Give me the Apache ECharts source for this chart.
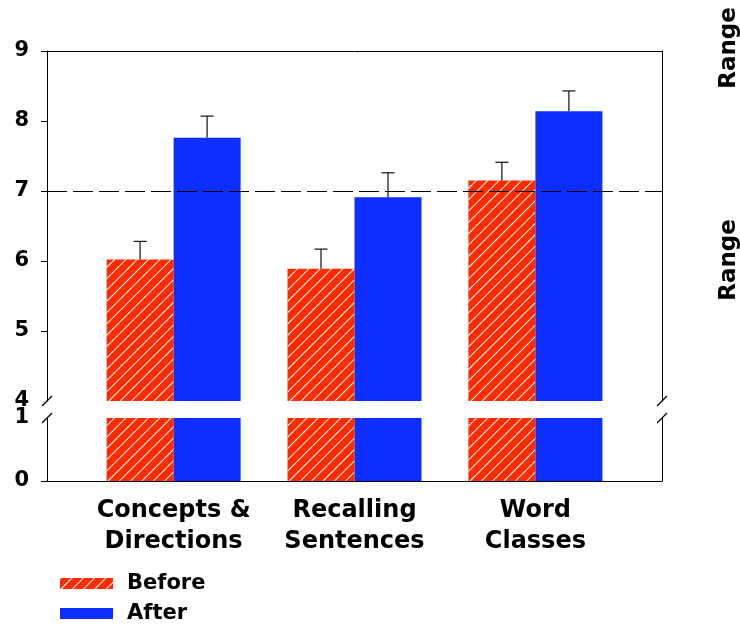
<!DOCTYPE html>
<html>
<head>
<meta charset="utf-8">
<script src="https://cdn.jsdelivr.net/npm/echarts@6/dist/echarts.min.js"></script>
<style>
  html, body { margin: 0; padding: 0; background: #fff; }
  #chart { width: 740px; height: 625px; }
</style>
</head>
<body>
<div id="chart"></div>
<script>
// Subtest scores before and after, on a broken y-axis (0–1 and 4–9)
const categories = ['Concepts &\nDirections', 'Recalling\nSentences', 'Word\nClasses'];
const catPos = [1, 2, 3];
const before = [6.02, 5.89, 7.15];
const after = [7.76, 6.91, 8.14];
const beforeErr = [0.26, 0.28, 0.26];
const afterErr = [0.31, 0.35, 0.29];
const upperTicks = [4, 5, 6, 7, 8, 9];
const lowerTicks = [0, 1];
const referenceLevel = 7;
const seriesNames = ['Before', 'After'];
const sideLabels = ['Range', 'Range'];

const RED = '#ff2a00';
const BLUE = '#0d2eff';
const FONT = 'DejaVu Sans';
const BAR_W = 67;

const hatch = {
  symbol: 'rect', symbolSize: 1, color: '#ffffff',
  dashArrayX: [1, 0], dashArrayY: [1, 7], rotation: -Math.PI / 4
};

const chart = echarts.init(document.getElementById('chart'), null, { renderer: 'canvas' });

const xBase = { type: 'value', min: 0.3, max: 3.7, splitLine: { show: false } };
const lineStyle = { color: '#000', width: 1 };

function pairs(vals) { return catPos.map((x, i) => [x, vals[i]]); }

function legendRow(name, top) {
  return {
    orient: 'vertical', left: 60, top: top, padding: 0,
    itemWidth: 53, itemHeight: 11, icon: 'rect',
    data: [name],
    textStyle: { fontFamily: FONT, fontWeight: 'bold', fontSize: 21, color: '#000', padding: [0, 0, 0, 9] }
  };
}

const option = {
  animation: false,
  backgroundColor: '#fff',
  grid: [
    { left: 47, right: 78, top: 51, height: 350 },
    { left: 47, right: 78, top: 418, height: 63 }
  ],
  xAxis: [
    Object.assign({}, xBase, {
      gridIndex: 0, position: 'top',
      axisLine: { show: true, lineStyle }, axisTick: { show: false }, axisLabel: { show: false }
    }),
    Object.assign({}, xBase, {
      gridIndex: 1, position: 'bottom',
      axisLine: { show: true, lineStyle }, axisTick: { show: false },
      axisLabel: {
        customValues: catPos,
        formatter: v => categories[Math.round(v) - 1] || '',
        fontFamily: FONT, fontWeight: 'bold', fontSize: 24, lineHeight: 31,
        color: '#000', margin: 14
      }
    })
  ],
  yAxis: [
    {
      type: 'value', gridIndex: 0, min: upperTicks[0], max: upperTicks[upperTicks.length - 1], interval: 1,
      axisLine: { show: true, lineStyle },
      axisTick: { show: true, customValues: upperTicks.slice(1), length: 6, lineStyle },
      axisLabel: { customValues: upperTicks, fontFamily: FONT, fontWeight: 'bold', fontSize: 21, color: '#000', margin: 18 },
      splitLine: { show: false }
    },
    {
      type: 'value', gridIndex: 0, position: 'right', min: upperTicks[0], max: upperTicks[upperTicks.length - 1],
      axisLine: { show: true, lineStyle }, axisTick: { show: false }, axisLabel: { show: false },
      splitLine: { show: false }
    },
    {
      type: 'value', gridIndex: 1, min: lowerTicks[0], max: lowerTicks[1], interval: 1,
      axisLine: { show: true, lineStyle },
      axisTick: { show: true, customValues: [lowerTicks[0]], length: 6, lineStyle },
      axisLabel: { customValues: lowerTicks, fontFamily: FONT, fontWeight: 'bold', fontSize: 21, color: '#000', margin: 18 },
      splitLine: { show: false }
    },
    {
      type: 'value', gridIndex: 1, position: 'right', min: lowerTicks[0], max: lowerTicks[1],
      axisLine: { show: true, lineStyle }, axisTick: { show: false }, axisLabel: { show: false },
      splitLine: { show: false }
    }
  ],
  legend: [legendRow(seriesNames[0], 573), legendRow(seriesNames[1], 603)],
  series: [
    {
      name: seriesNames[0], type: 'bar', xAxisIndex: 0, yAxisIndex: 0,
      barWidth: BAR_W, barGap: '0%', data: pairs(before),
      itemStyle: { color: RED, decal: hatch }
    },
    {
      name: seriesNames[1], type: 'bar', xAxisIndex: 0, yAxisIndex: 0,
      barWidth: BAR_W, barGap: '0%', data: pairs(after),
      itemStyle: { color: BLUE },
      markLine: {
        silent: true, symbol: 'none', label: { show: false },
        lineStyle: { color: '#000', width: 1.2, type: [20, 6] },
        data: [{ yAxis: referenceLevel }]
      }
    },
    {
      name: seriesNames[0], type: 'bar', xAxisIndex: 1, yAxisIndex: 2,
      barWidth: BAR_W, barGap: '0%', data: pairs(before),
      itemStyle: { color: RED, decal: hatch }
    },
    {
      name: seriesNames[1], type: 'bar', xAxisIndex: 1, yAxisIndex: 2,
      barWidth: BAR_W, barGap: '0%', data: pairs(after),
      itemStyle: { color: BLUE }
    },
    {
      // upward error bars with caps, centred on each bar
      type: 'custom', xAxisIndex: 0, yAxisIndex: 0, z: 5, silent: true,
      data: catPos.map((x, i) => [x, before[i], beforeErr[i], -1])
        .concat(catPos.map((x, i) => [x, after[i], afterErr[i], 1])),
      encode: { x: 0, y: 1 },
      renderItem: function (params, api) {
        const x = api.value(0), y = api.value(1), e = api.value(2), side = api.value(3);
        const base = api.coord([x, y]);
        const top = api.coord([x, y + e]);
        const cx = base[0] + side * BAR_W / 2;
        const st = { stroke: '#222', lineWidth: 1.3 };
        return {
          type: 'group',
          children: [
            { type: 'line', shape: { x1: cx, y1: base[1], x2: cx, y2: top[1] }, style: st },
            { type: 'line', shape: { x1: cx - 6.5, y1: top[1], x2: cx + 6.5, y2: top[1] }, style: st }
          ]
        };
      }
    }
  ]
};

chart.setOption(option);

// axis break marks at the ends of the two segments, plus side labels
const upLeft = chart.convertToPixel({ gridIndex: 0 }, [0.3, upperTicks[0]]);
const upRight = chart.convertToPixel({ gridIndex: 0 }, [3.7, upperTicks[0]]);
const lowLeft = chart.convertToPixel({ gridIndex: 1 }, [0.3, lowerTicks[1]]);
const lowRight = chart.convertToPixel({ gridIndex: 1 }, [3.7, lowerTicks[1]]);
function slash(p) {
  return {
    type: 'line', silent: true,
    shape: { x1: p[0] - 5, y1: p[1] + 5, x2: p[0] + 5, y2: p[1] - 5 },
    style: { stroke: '#000', lineWidth: 1.2 }
  };
}
const topY = chart.convertToPixel({ gridIndex: 0 }, [0.3, 9])[1];
const midY = chart.convertToPixel({ gridIndex: 0 }, [0.3, 6])[1];
chart.setOption({
  graphic: [
    slash(upLeft), slash(upRight), slash(lowLeft), slash(lowRight),
    {
      type: 'text', x: 729, y: topY - 3, rotation: Math.PI / 2, silent: true,
      style: { text: sideLabels[0], font: 'bold 23px "DejaVu Sans"', fill: '#000', align: 'center', verticalAlign: 'middle' }
    },
    {
      type: 'text', x: 729, y: midY - 1, rotation: Math.PI / 2, silent: true,
      style: { text: sideLabels[1], font: 'bold 23px "DejaVu Sans"', fill: '#000', align: 'center', verticalAlign: 'middle' }
    }
  ]
});
</script>
</body>
</html>
